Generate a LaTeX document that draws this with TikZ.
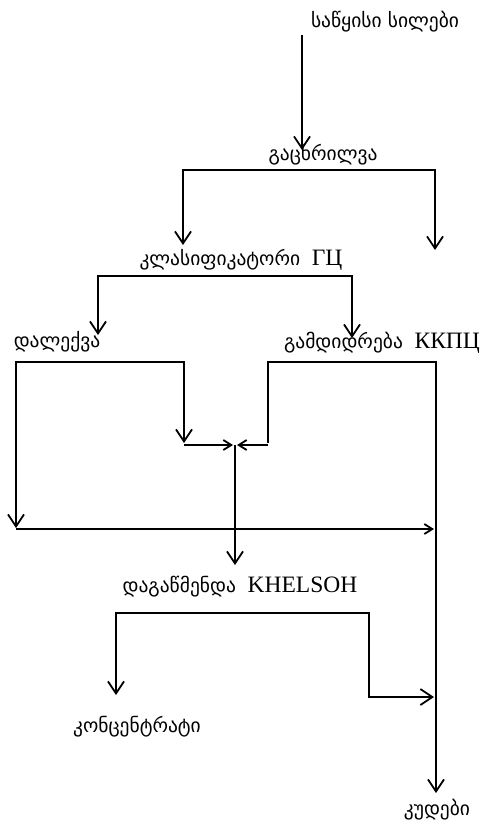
\documentclass[tikz,border=0pt]{standalone}
\usepackage{fontspec}
\setmainfont{Liberation Serif}
\newfontfamily\geo{DejaVu Sans}
\usetikzlibrary{arrows.meta}
\begin{document}
\begin{tikzpicture}[x=1pt,y=-1pt,
  lbl/.style={inner sep=0pt,anchor=center,font=\fontsize{23.5}{26}\selectfont},
  flow/.style={line width=1.8pt,line join=miter},
  bigtip/.style={-{Straight Barb[length=12pt,width=16pt]}},
  bigtips/.style={{Straight Barb[length=12pt,width=16pt]}-{Straight Barb[length=12pt,width=16pt]}},
  smalltip/.style={-{Straight Barb[length=8pt,width=10pt]}}]
\useasboundingbox (0,0) rectangle (482,825);
\newcommand{\gt}[1]{{\geo\fontsize{19.5}{22}\selectfont #1}}
% labels
\node[lbl] (src)  at (385,22)  {\gt{საწყისი სილები}};
\node[lbl] (scr)  at (323,155) {\gt{გაცხრილვა}};
\node[lbl] (cls)  at (241,260) {\gt{კლასიფიკატორი}\ \ ГЦ};
\node[lbl] (sed)  at (57,342)  {\gt{დალექვა}};
\node[lbl] (enr)  at (382,343) {\gt{გამდიდრება}\ \ ККПЦ};
\node[lbl] (cln)  at (240,587) {\gt{დაგაწმენდა}\ \ KHELSOH};
\node[lbl] (con)  at (137,727) {\gt{კონცენტრატი}};
\node[lbl] (tail) at (437,810) {\gt{კუდები}};
% coordinates
\coordinate (s0) at (302,35);
\coordinate (s1) at (302,150);
\coordinate (g1l) at (183,245);
\coordinate (g1lc) at (183,170);
\coordinate (g1rc) at (435,170);
\coordinate (g1r) at (435,250);
\coordinate (g2l) at (98,335);
\coordinate (g2lc) at (98,276);
\coordinate (g2rc) at (352,276);
\coordinate (g2r) at (352,338);
\coordinate (lA) at (184,443);
\coordinate (lAc) at (184,362);
\coordinate (lBc) at (16,362);
\coordinate (lB) at (16,528);
\coordinate (hL) at (16,529);
\coordinate (hR) at (434,529);
\coordinate (mL) at (184,445);
\coordinate (mR) at (268,445);
\coordinate (mC) at (235,445);
\coordinate (mCl) at (233,445);
\coordinate (mCr) at (237,445);
\coordinate (mD) at (235,565);
\coordinate (rA) at (268,443);
\coordinate (rAc) at (268,362);
\coordinate (rBc) at (436,362);
\coordinate (rB) at (436,793);
\coordinate (bL) at (116,695);
\coordinate (bLc) at (116,613);
\coordinate (bRc) at (369,613);
\coordinate (bRd) at (369,697);
\coordinate (bR) at (434,697);
% connectors
\draw[flow,bigtip] (s0) -- (s1);
\draw[flow,bigtips] (g1l) -- (g1lc) -- (g1rc) -- (g1r);
\draw[flow,bigtips] (g2l) -- (g2lc) -- (g2rc) -- (g2r);
\draw[flow,bigtips] (lA) -- (lAc) -- (lBc) -- (lB);
\draw[flow,smalltip] (hL) -- (hR);
\draw[flow,smalltip] (mL) -- (mCl);
\draw[flow,smalltip] (mR) -- (mCr);
\draw[flow,bigtip] (mC) -- (mD);
\draw[flow,bigtip] (rA) -- (rAc) -- (rBc) -- (rB);
\draw[flow,bigtips] (bL) -- (bLc) -- (bRc) -- (bRd) -- (bR);
\end{tikzpicture}
\end{document}
